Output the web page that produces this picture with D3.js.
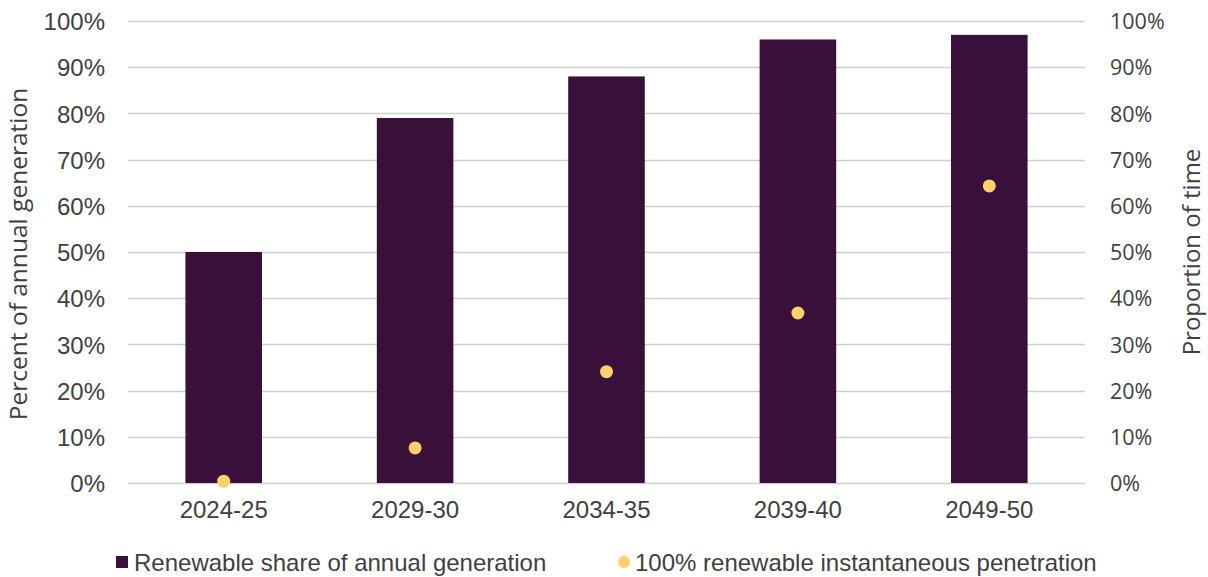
<!DOCTYPE html>
<html><head><meta charset="utf-8">
<script src="https://cdn.jsdelivr.net/npm/d3@7"></script>
<style>body{margin:0;background:#fff}svg{display:block}</style>
</head><body>
<svg id="c" width="1208" height="577"></svg>
<script>
const categories = ["2024-25","2029-30","2034-35","2039-40","2049-50"];
const renewableShare = [50, 79, 88, 96, 97];
const instantaneous100 = [0.4, 7.6, 24.1, 36.8, 64.3];
const tickValues = [0,10,20,30,40,50,60,70,80,90,100];
const seriesNames = ["Renewable share of annual generation","100% renewable instantaneous penetration"];

const svg = d3.select("#c");
const pLeft = 128, pRight = 1085, pTop = 21, pBottom = 483;
const x = d3.scaleBand().domain(categories).range([pLeft, pRight]).paddingInner(0.6).paddingOuter(0.3);
const y = d3.scaleLinear().domain([0,100]).range([pBottom, pTop]);
const y2 = d3.scaleLinear().domain([0,100]).range([pBottom, pTop]);
const barColor = "#38103a", dotColor = "#fdd06c", textColor = "#404040";

// grid
svg.append("g").selectAll("line").data(tickValues).join("line")
  .attr("x1", pLeft).attr("x2", pRight)
  .attr("y1", d => Math.round(y(d))+0.5).attr("y2", d => Math.round(y(d))+0.5)
  .attr("stroke", "#d0d0d0").attr("stroke-width", 1.3);

// bars
svg.append("g").selectAll("rect").data(categories).join("rect")
  .attr("x", d => x(d)).attr("width", x.bandwidth())
  .attr("y", (d,i) => y(renewableShare[i]))
  .attr("height", (d,i) => y(0) - y(renewableShare[i]))
  .attr("fill", barColor);

// dots
svg.append("g").selectAll("circle").data(categories).join("circle")
  .attr("cx", d => x(d) + x.bandwidth()/2)
  .attr("cy", (d,i) => y2(instantaneous100[i]))
  .attr("r", 6.5).attr("fill", dotColor);

// left axis
const la = svg.append("g").attr("transform", `translate(${pLeft-23},0)`)
  .call(d3.axisLeft(y).tickValues(tickValues).tickFormat(d => d + "%").tickSize(0).tickPadding(0));
la.select(".domain").remove();
la.selectAll("text").attr("font-family","Liberation Sans, Arial, sans-serif").attr("font-size","24px").attr("fill",textColor).attr("dy","0.36em");

// right axis
const ra = svg.append("g").attr("transform", `translate(${pRight+25},0)`)
  .call(d3.axisRight(y2).tickValues(tickValues).tickFormat(d => d + "%").tickSize(0).tickPadding(0));
ra.select(".domain").remove();
ra.selectAll("text").attr("font-family","Open Sans, sans-serif").attr("font-size","21.5px").attr("fill",textColor).attr("dy","0.36em");

// x axis
const xa = svg.append("g").attr("transform", `translate(0,${pBottom+17})`)
  .call(d3.axisBottom(x).tickSize(0).tickPadding(0));
xa.select(".domain").remove();
xa.selectAll("text").attr("font-family","Liberation Sans, Arial, sans-serif").attr("font-size","24px").attr("fill",textColor).attr("dy","0.75em");

// axis titles
svg.append("text").attr("transform", `translate(27,${(pTop+pBottom)/2 + 2}) rotate(-90)`)
  .attr("text-anchor","middle").attr("font-family","Open Sans, sans-serif").attr("font-weight",400)
  .attr("font-size","24.5px").attr("fill",textColor).text("Percent of annual generation");
svg.append("text").attr("transform", `translate(1200,${(pTop+pBottom)/2}) rotate(-90)`)
  .attr("text-anchor","middle").attr("font-family","Open Sans, sans-serif").attr("font-weight",400)
  .attr("font-size","24px").attr("fill",textColor).text("Proportion of time");

// legend
const lg = svg.append("g").attr("font-family","Liberation Sans, Arial, sans-serif").attr("font-size","24px").attr("fill",textColor);
lg.append("rect").attr("x",116).attr("y",556).attr("width",12).attr("height",12).attr("fill",barColor);
lg.append("text").attr("x",134).attr("y",571).text(seriesNames[0]);
lg.append("circle").attr("cx",624).attr("cy",562).attr("r",6).attr("fill",dotColor);
lg.append("text").attr("x",635).attr("y",571).text(seriesNames[1]);
</script>
</body></html>
